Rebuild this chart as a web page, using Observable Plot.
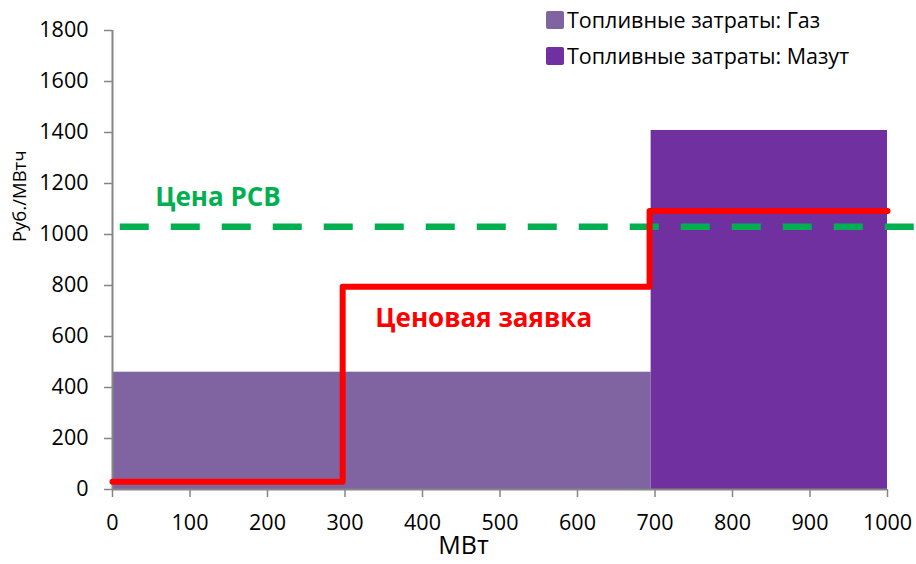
<!DOCTYPE html>
<html>
<head>
<meta charset="utf-8">
<script src="https://cdn.jsdelivr.net/npm/d3@7"></script>
<script src="https://cdn.jsdelivr.net/npm/@observablehq/plot@0.6"></script>
<style>
  body { margin: 0; background: #fff; }
  #wrap { position: relative; width: 916px; height: 564px; font-family: "Open Sans", sans-serif; }
  #legend { position: absolute; left: 546px; top: 2px; font-size: 21.5px; color: #000; }
  .li { display: flex; align-items: center; height: 36px; line-height: 1; }
  .sw { width: 18px; height: 18px; margin-right: 3px; border-radius: 2px; }
</style>
</head>
<body>
<div id="wrap"><div id="legend"></div></div>
<script>
// Fuel cost blocks
const fuelNames = ["Топливные затраты: Газ", "Топливные затраты: Мазут"];
const fuelFrom = [0, 695];
const fuelTo = [695, 1000];
const fuelCost = [460, 1408];
const fuelColors = ["#8064A2", "#7030A0"];

// Price bid (step line)
const bidX = [0, 297, 693, 1000];
const bidPrice = [30, 795, 1092, 1092];

// Day-ahead market price
const rsvPrice = 1030;

// Ticks
const xTicks = [0, 100, 200, 300, 400, 500, 600, 700, 800, 900, 1000];
const yTicks = [0, 200, 400, 600, 800, 1000, 1200, 1400, 1600, 1800];

const fuel = fuelNames.map((n, i) => ({name: n, x1: fuelFrom[i], x2: fuelTo[i], y: fuelCost[i]}));
const bid = bidX.map((x, i) => ({x, y: bidPrice[i]}));

const axisColor = "#868686";
const fmt = d => String(d);
const chart = Plot.plot({
  width: 916,
  height: 564,
  marginLeft: 112,
  marginRight: 29,
  marginTop: 30,
  marginBottom: 75,
  style: {fontFamily: "Open Sans, sans-serif", fontSize: "21px", color: "#000", background: "transparent"},
  x: {domain: [0, 1000]},
  y: {domain: [0, 1800]},
  color: {domain: fuelNames, range: fuelColors},
  marks: [
    Plot.rect(fuel, {x1: "x1", x2: "x2", y1: 0, y2: "y", fill: "name", inset: 0}),
    Plot.axisY({ticks: yTicks, tickFormat: fmt, tickSize: 8, tickPadding: 16, stroke: axisColor, strokeWidth: 1.5, label: null, fontSize: 21.5}),
    Plot.axisX({ticks: xTicks, tickFormat: fmt, tickSize: 8, tickPadding: 17, stroke: axisColor, strokeWidth: 1.5, label: null, fontSize: 21.5}),
    Plot.ruleX([0], {stroke: axisColor, strokeWidth: 2}),
    Plot.ruleY([0], {stroke: axisColor, strokeWidth: 2}),
    Plot.ruleY([rsvPrice], {x1: 10, x2: 1040, stroke: "#00B050", strokeWidth: 6.5, strokeDasharray: "29,22"}),
    Plot.line(bid, {x: "x", y: "y", curve: "step-after", stroke: "#FF0000", strokeWidth: 6, strokeLinejoin: "round"}),
    Plot.text(["Цена РСВ"], {x: 55, y: 1145, textAnchor: "start", fill: "#00B050", fontWeight: "bold", fontSize: 26}),
    Plot.text(["Ценовая заявка"], {x: 339, y: 670, textAnchor: "start", fill: "#FF0000", fontWeight: "bold", fontSize: 26}),
    Plot.text(["Руб./МВтч"], {frameAnchor: "left", y: 1150, dx: -92, rotate: -90, textAnchor: "middle", fill: "#000", fontSize: 18.5}),
    Plot.text(["МВт"], {x: 453, frameAnchor: "bottom", dy: 64, fill: "#000", fontSize: 25})
  ]
});
document.getElementById("wrap").prepend(chart);
chart.style.position = "absolute";
chart.style.left = "0"; chart.style.top = "0";

const legend = document.getElementById("legend");
fuelNames.forEach((n, i) => {
  const row = document.createElement("div");
  row.className = "li";
  const sw = document.createElement("span");
  sw.className = "sw";
  sw.style.background = fuelColors[i];
  const t = document.createElement("span");
  t.textContent = n;
  row.appendChild(sw); row.appendChild(t);
  legend.appendChild(row);
});
</script>
</body>
</html>
